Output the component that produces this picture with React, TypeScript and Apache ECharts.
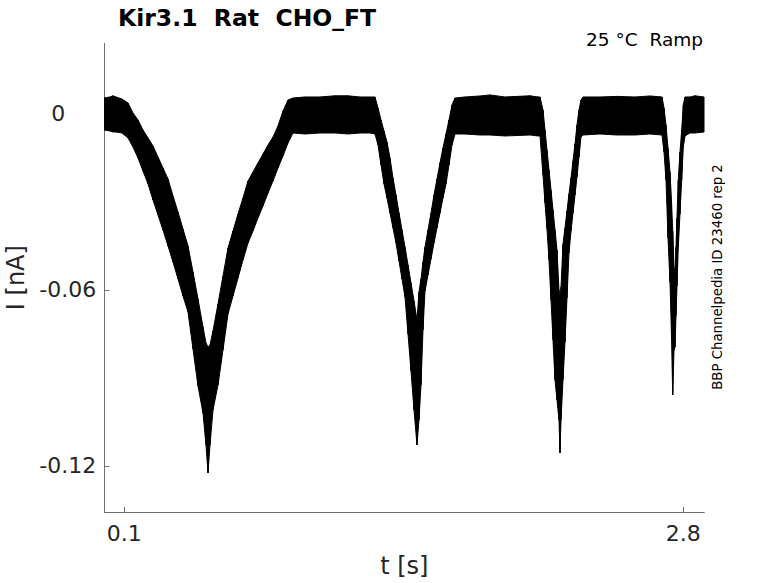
import React, { useEffect, useRef } from "react";
import * as echarts from "echarts";

// Time samples (s), with upper / lower envelope of the noisy current band (nA)
const timeS = [
  0.002, 0.0309, 0.0454, 0.0599, 0.0889, 0.1179, 0.142, 0.1662, 0.1903, 0.2145,
  0.2386, 0.2628, 0.2869, 0.3111, 0.3352, 0.3594, 0.3835, 0.4077, 0.4318, 0.456,
  0.4801, 0.4946, 0.5043, 0.5139, 0.5284, 0.5526, 0.5767, 0.6009, 0.625, 0.6492,
  0.6733, 0.6975, 0.7216, 0.7458, 0.7699, 0.7941, 0.8182, 0.8424, 0.8665, 0.8907,
  0.9148, 0.9728, 1.0452, 1.1177, 1.1805, 1.2384, 1.2867, 1.3109, 1.3254, 1.3399,
  1.3544, 1.3688, 1.3833, 1.3978, 1.4123, 1.4268, 1.4413, 1.4558, 1.4703, 1.4848,
  1.4993, 1.5137, 1.5234, 1.5331, 1.5427, 1.5524, 1.5669, 1.5814, 1.5959, 1.6103,
  1.6248, 1.6393, 1.6538, 1.6683, 1.6828, 1.6973, 1.7456, 1.818, 1.8663, 1.9388,
  2.0595, 2.0982, 2.1078, 2.1223, 2.132, 2.1416, 2.1513, 2.161, 2.1706, 2.1803,
  2.1899, 2.1996, 2.2044, 2.2093, 2.2189, 2.2286, 2.2382, 2.2479, 2.2576, 2.2672,
  2.2769, 2.2865, 2.2962, 2.3059, 2.3155, 2.3976, 2.4797, 2.5667, 2.6391, 2.6971,
  2.7068, 2.7164, 2.7261, 2.7357, 2.743, 2.7488, 2.7551, 2.7599, 2.7647, 2.7695,
  2.7758, 2.784, 2.7922, 2.8, 2.8082, 2.8323, 2.8565, 2.9,
];

const upperNA = [
  0.00545, 0.0058, 0.0062, 0.0058, 0.00511, 0.00375, 0.00034, -0.00205, -0.00545, -0.00818,
  -0.01091, -0.01466, -0.01841, -0.02216, -0.02795, -0.03341, -0.0392, -0.045, -0.05386, -0.06307,
  -0.07261, -0.07807, -0.07943, -0.07875, -0.07398, -0.06477, -0.05523, -0.04568, -0.03989, -0.03409,
  -0.02864, -0.02284, -0.01977, -0.0167, -0.01364, -0.01057, -0.00784, -0.00409, 0.00102, 0.00477,
  0.00545, 0.0058, 0.0058, 0.0062, 0.0062, 0.0058, 0.0058, 0.0058, 0.00205, -0.00205,
  -0.0058, -0.00955, -0.015, -0.02182, -0.02761, -0.03375, -0.03955, -0.04534, -0.05148, -0.05761,
  -0.06375, -0.07023, -0.06068, -0.05625, -0.05045, -0.04534, -0.03955, -0.03375, -0.02761, -0.02216,
  -0.0167, -0.01159, -0.00682, -0.00205, 0.00307, 0.00545, 0.0058, 0.00614, 0.0065, 0.0058,
  0.0062, 0.0058, 0.0058, 0.00136, -0.00545, -0.01227, -0.01909, -0.02591, -0.03273, -0.03955,
  -0.04636, -0.06, -0.06682, -0.05898, -0.04432, -0.03886, -0.03307, -0.02727, -0.02182, -0.01602,
  -0.01023, -0.00375, 0.00136, 0.00477, 0.0058, 0.0058, 0.006, 0.0058, 0.00614, 0.0058,
  0.00205, -0.00375, -0.01159, -0.01977, -0.02966, -0.03989, -0.05216, -0.0542, -0.04534, -0.03545,
  -0.0225, -0.01295, -0.00545, 0.00307, 0.0058, 0.0058, 0.0062, 0.0058,
];

const lowerNA = [
  -0.00545, -0.0058, -0.00614, -0.00614, -0.00648, -0.00818, -0.01125, -0.015, -0.01943, -0.02386,
  -0.02932, -0.03443, -0.03955, -0.045, -0.05045, -0.05625, -0.06205, -0.0675, -0.08011, -0.09273,
  -0.10193, -0.11284, -0.12239, -0.11284, -0.10091, -0.09239, -0.08045, -0.06818, -0.06205, -0.05591,
  -0.04977, -0.04398, -0.03989, -0.03545, -0.03136, -0.02693, -0.02284, -0.01841, -0.01432, -0.00989,
  -0.00648, -0.00682, -0.00648, -0.00648, -0.00682, -0.00648, -0.00648, -0.00682, -0.01057, -0.01739,
  -0.02386, -0.02864, -0.03375, -0.03886, -0.04398, -0.05011, -0.05625, -0.06239, -0.075, -0.08761,
  -0.10091, -0.11284, -0.10432, -0.09239, -0.07364, -0.06034, -0.05489, -0.04943, -0.04398, -0.03886,
  -0.03375, -0.02864, -0.02386, -0.01739, -0.01057, -0.00682, -0.00682, -0.00716, -0.00716, -0.0075,
  -0.00716, -0.0075, -0.0075, -0.0208, -0.03034, -0.0392, -0.04977, -0.06341, -0.07705, -0.09068,
  -0.0975, -0.10432, -0.11557, -0.10432, -0.09068, -0.07773, -0.06273, -0.04739, -0.03989, -0.03375,
  -0.02761, -0.02148, -0.01466, -0.00784, -0.00716, -0.00682, -0.00716, -0.00716, -0.00682, -0.00716,
  -0.01295, -0.0225, -0.04227, -0.05727, -0.07568, -0.0958, -0.08045, -0.07943, -0.06886, -0.05864,
  -0.04534, -0.03409, -0.0225, -0.01125, -0.0075, -0.00648, -0.00648, -0.00614,
];

const xTickValues = [0.1, 2.8];
const yTickValues = [0, -0.06, -0.12];
const xRange = [0.0034, 2.9014];
const yRange = [-0.1357, 0.0241];

const titleText = "Kir3.1  Rat  CHO_FT";
const conditionText = "25 °C  Ramp";
const sourceText = "BBP Channelpedia ID 23460 rep 2";
const xName = "t [s]";
const yName = "I [nA]";

const FONT = "DejaVu Sans";
const AXIS_COLOR = "#6e6e6e";
const LABEL_COLOR = "#262626";

export default function App() {
  const ref = useRef<HTMLDivElement>(null);

  useEffect(() => {
    if (!ref.current) return;
    const chart = echarts.init(ref.current, undefined, { renderer: "svg" });

    // one quad per pair of consecutive samples: [t0, up0, lo0, t1, up1, lo1]
    const segments = timeS.slice(0, -1).map((t, i) => [
      t,
      upperNA[i],
      lowerNA[i],
      timeS[i + 1],
      upperNA[i + 1],
      lowerNA[i + 1],
    ]);

    const renderItem = (_params: any, api: any) => {
      const t0 = api.value(0);
      const t1 = api.value(3);
      const a = api.coord([t0, api.value(1)]);
      const b = api.coord([t1, api.value(4)]);
      const c = api.coord([t1, api.value(5)]);
      const d = api.coord([t0, api.value(2)]);
      return {
        type: "polygon",
        shape: { points: [a, b, c, d] },
        style: { fill: "#000", stroke: "#000", lineWidth: 1 },
      };
    };

    chart.setOption({
      animation: false,
      backgroundColor: "#ffffff",
      title: [
        {
          text: titleText,
          left: 118,
          top: 6,
          padding: 0,
          textStyle: { fontFamily: FONT, fontSize: 23.5, fontWeight: "bold", color: "#000" },
        },
        {
          text: conditionText,
          right: 75,
          top: 30,
          padding: 0,
          textStyle: { fontFamily: FONT, fontSize: 18.5, fontWeight: "normal", color: "#000" },
        },
      ],
      graphic: [
        {
          type: "text",
          x: 717,
          y: 277,
          rotation: Math.PI / 2,
          style: {
            text: sourceText,
            fontFamily: FONT,
            fontSize: 13.3,
            fill: "#000",
            align: "center",
            verticalAlign: "middle",
          },
        },
      ],
      grid: {
        left: 104.3,
        right: 73.7,
        top: 43.3,
        bottom: 71,
        containLabel: false,
        outerBoundsMode: "none",
      },
      xAxis: {
        type: "value",
        min: xRange[0],
        max: xRange[1],
        name: xName,
        nameLocation: "middle",
        nameGap: 42,
        nameTextStyle: { fontFamily: FONT, fontSize: 24, color: LABEL_COLOR },
        axisLine: { show: true, onZero: false, lineStyle: { color: AXIS_COLOR, width: 1 } },
        axisTick: {
          show: true,
          inside: true,
          length: 5,
          customValues: xTickValues,
          lineStyle: { color: AXIS_COLOR, width: 1 },
        },
        axisLabel: {
          customValues: xTickValues,
          margin: 10,
          fontFamily: FONT,
          fontSize: 22,
          color: LABEL_COLOR,
          formatter: (v: number) => String(v),
        },
        splitLine: { show: false },
      },
      yAxis: {
        type: "value",
        min: yRange[0],
        max: yRange[1],
        name: yName,
        nameLocation: "middle",
        nameGap: 74,
        nameRotate: 90,
        nameTextStyle: { fontFamily: FONT, fontSize: 24, color: LABEL_COLOR },
        axisLine: { show: true, onZero: false, lineStyle: { color: AXIS_COLOR, width: 1 } },
        axisTick: {
          show: true,
          inside: true,
          length: 5,
          customValues: yTickValues,
          lineStyle: { color: AXIS_COLOR, width: 1 },
        },
        axisLabel: {
          customValues: yTickValues,
          margin: 8,
          fontFamily: FONT,
          fontSize: 22,
          color: LABEL_COLOR,
          formatter: (v: number) => (Math.abs(v) < 1e-9 ? "{z|0}" : String(v)),
          rich: {
            z: { fontFamily: FONT, fontSize: 22, color: LABEL_COLOR, padding: [0, 31, 0, 0] },
          },
        },
        splitLine: { show: false },
      },
      series: [
        {
          name: "current",
          type: "custom",
          renderItem,
          data: segments,
          encode: { x: [0, 3], y: [1, 2, 4, 5] },
          silent: true,
          clip: true,
        },
      ],
    });

    return () => chart.dispose();
  }, []);

  return (
    <div
      ref={ref}
      style={{ position: "fixed", left: 0, top: 0, width: 778, height: 583, background: "#fff" }}
    />
  );
}
